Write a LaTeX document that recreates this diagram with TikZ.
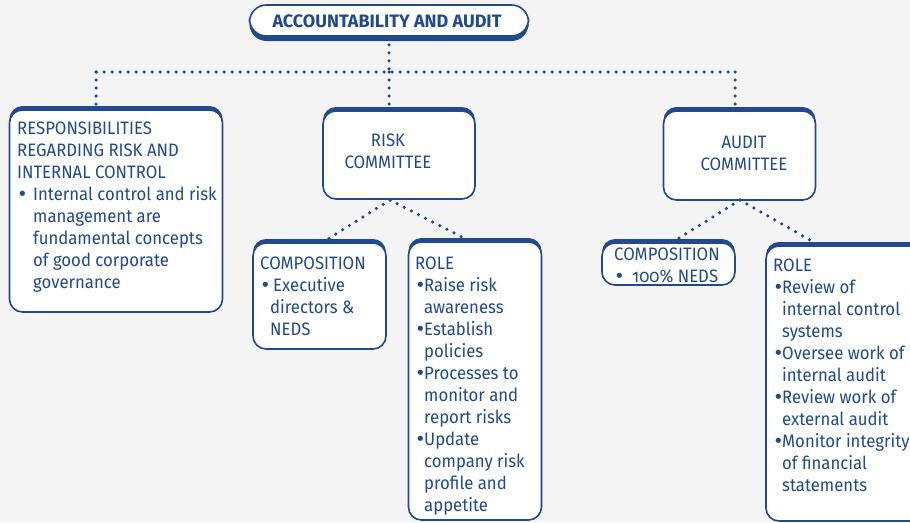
\documentclass[tikz,border=0pt]{standalone}
\usepackage{fontspec}
\setmainfont{Fira Sans}[FakeStretch=0.93]
\newfontfamily\titlefont{Fira Sans}[FakeStretch=1.0]
\newfontfamily\onumfont{Fira Sans}[FakeStretch=0.93,Numbers=OldStyle]
\newfontfamily\dvs{DejaVu Sans}
\definecolor{dblue}{HTML}{21498F}
\definecolor{bgc}{HTML}{F4F4F4}
\newcommand{\bl}[1]{\makebox[#1][l]{{\dvs •}}}
\newcommand{\ind}[1]{\hspace*{#1}}
\begin{document}
\begin{tikzpicture}[x=1pt,y=-1pt,
  box/.style={draw=dblue, line width=1.6pt, fill=white, rounded corners=13pt, inner sep=0pt,
    preaction={fill=dblue, transform canvas={yshift=4pt}}},
  titlebox/.style={draw=dblue, line width=1.6pt, fill=white, rounded corners=17pt, inner sep=0pt,
    preaction={fill=dblue, transform canvas={yshift=-5pt}}},
  txt/.style={text=dblue, font=\fontsize{18}{22}\selectfont, align=left, inner sep=0pt, anchor=north west},
  ctxt/.style={txt, align=center, anchor=north},
  dots/.style={draw=dblue, line width=3.5pt, line cap=round, dash pattern=on 0pt off 8pt}
]
\useasboundingbox (0,0) rectangle (910,522);
\fill[bgc] (0,0) rectangle (910,522);
\clip (0,0) rectangle (910,522);

% boxes
\node[titlebox, minimum width=279, minimum height=31] (title) at (389,20.5) {};
\node[box, minimum width=213, minimum height=202] (resp) at (116,211) {};
\node[box, minimum width=152, minimum height=88] (risk) at (399,155) {};
\node[box, minimum width=152, minimum height=89] (audit) at (739.5,155.5) {};
\node[box, minimum width=133, minimum height=106] (rcomp) at (319.5,296) {};
\node[box, minimum width=133, minimum height=278] (rrole) at (475,381) {};
\node[box, minimum width=133, minimum height=42] (acomp) at (668.5,264) {};
\node[box, minimum width=160, minimum height=275] (arole) at (846,383.5) {};

% texts
\node[text=dblue, font=\fontsize{18}{22}\titlefont\bfseries, inner sep=0pt] at (387,21) {ACCOUNTABILITY AND AUDIT};
\node[txt] at (17,121.5) {RESPONSIBILITIES\\REGARDING RISK AND\\INTERNAL CONTROL\\
  \bl{16pt}Internal control and risk\\\ind{16pt}management are\\\ind{16pt}fundamental concepts\\\ind{16pt}of good corporate\\\ind{16pt}governance};
\node[ctxt] at (388,134) {RISK\\COMMITTEE};
\node[ctxt] at (744,136) {AUDIT\\COMMITTEE};
\node[txt] at (260,256.5) {COMPOSITION\\\bl{13pt}Executive\\\ind{10pt}directors \&\\\ind{10pt}NEDS};
\node[txt] at (415,256.5) {ROLE\\\bl{9pt}Raise risk\\\ind{9pt}awareness\\\bl{9pt}Establish\\\ind{9pt}policies\\
  \bl{9pt}Processes to\\\ind{9pt}monitor and\\\ind{9pt}report risks\\\bl{9pt}Update\\\ind{9pt}company risk\\\ind{9pt}profile and\\\ind{9pt}appetite};
\node[txt] at (614,247.5) {COMPOSITION\\\bl{18pt}{\onumfont 100\%} NEDS};
\node[txt] at (773,258.5) {ROLE\\\bl{9pt}Review of\\\ind{9pt}internal control\\\ind{9pt}systems\\\bl{9pt}Oversee work of\\\ind{9pt}internal audit\\
  \bl{9pt}Review work of\\\ind{9pt}external audit\\\bl{9pt}Monitor integrity\\\ind{9pt}of financial\\\ind{9pt}statements};

% connectors
\coordinate (hl) at (96,72);
\coordinate (hr) at (735,72);
\coordinate (hm) at (389,72);
\draw[dots] (title.south) -- (hm);
\draw[dots] (hl) -- (hr);
\draw[dots] (hl) -- (hl |- resp.north);
\draw[dots] (hm) -- (hm |- risk.north);
\draw[dots] (hr) -- (hr |- audit.north);
\coordinate (rb) at (390,200);
\coordinate (ab) at (740,200);
\draw[dots] (rb) -- ([xshift=3.5pt]rcomp.north);
\draw[dots] (rb) -- ([xshift=-5pt]rrole.north);
\draw[dots] (ab) -- ([xshift=4pt]acomp.north);
\draw[dots] (ab) -- ([xshift=-27pt]arole.north);
\end{tikzpicture}
\end{document}
